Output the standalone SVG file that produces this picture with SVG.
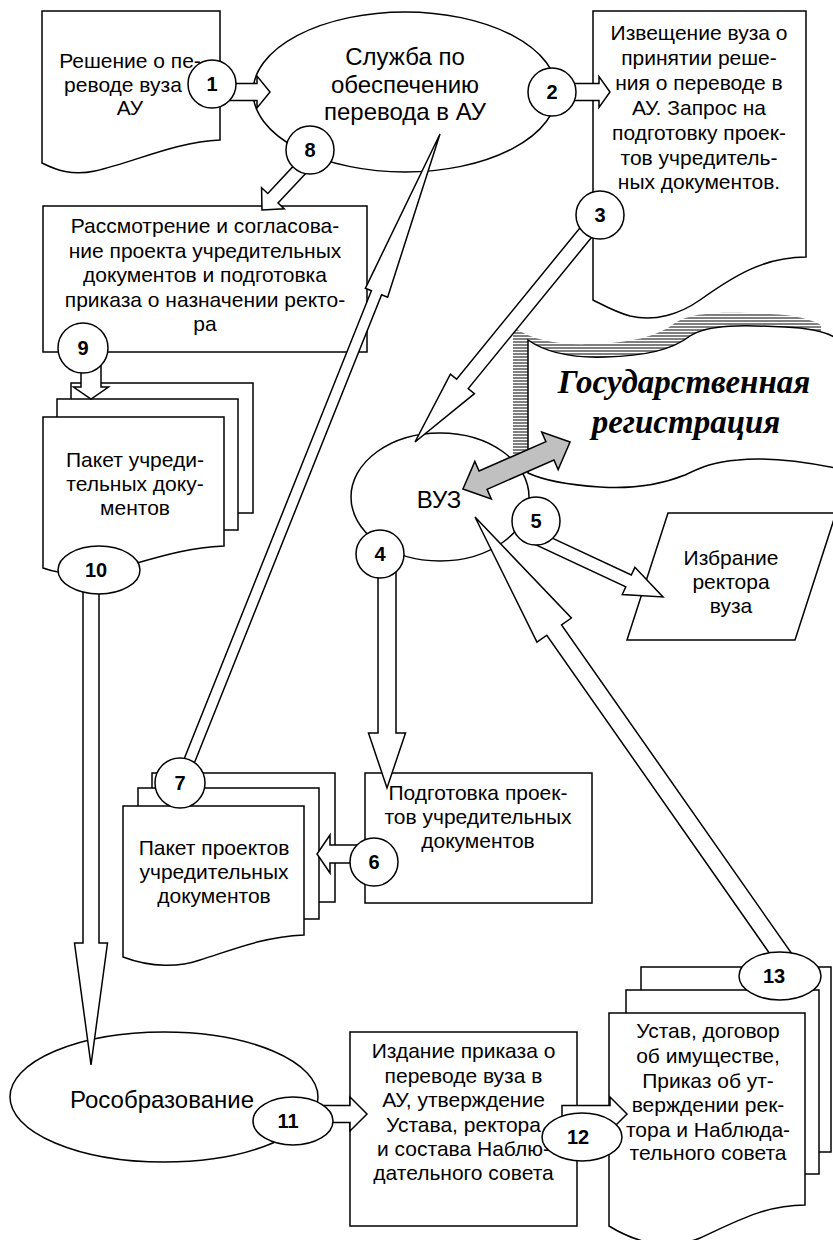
<svg xmlns="http://www.w3.org/2000/svg" width="833" height="1240" viewBox="0 0 833 1240">
<style>
.s{fill:#fff;stroke:#000;stroke-width:1.5}
.g{fill:#c0c0c0;stroke:#000;stroke-width:1.5}
.t{font-family:"Liberation Sans",Arial,sans-serif;font-size:21px;text-anchor:middle;fill:#000}
.b{font-size:24px}
.n{font-family:"Liberation Sans",Arial,sans-serif;font-size:20px;font-weight:bold;text-anchor:middle;fill:#000}
.reg{font-family:"Liberation Serif","Times New Roman",serif;font-style:italic;font-weight:bold;font-size:33px;text-anchor:middle;fill:#000}
</style>
<defs>
<pattern id="hatch" width="4" height="3" patternUnits="userSpaceOnUse">
<rect width="4" height="3" fill="#fff"/>
<rect width="4" height="2" fill="#808080"/>
</pattern>
</defs>
<rect width="833" height="1240" fill="#fff"/>

<g id="doc-decision">
<path class="s" d="M42,11 H220 V140 C175,142 135,162 95,171 C72,176 56,170 42,163 Z"/>
<text class="t" x="130" y="68">Решение о пе-</text>
<text class="t" x="123" y="92">реводе вуза</text>
<text class="t" x="130" y="115">АУ</text>
</g>

<g id="service">
<ellipse class="s" cx="405" cy="92" rx="152" ry="80"/>
<text class="t b" x="405" y="65">Служба по</text>
<text class="t b" x="405" y="93">обеспечению</text>
<text class="t b" x="405" y="120">перевода в АУ</text>
</g>

<g id="doc-notice">
<path class="s" d="M593,11 H806 V257 C765,257 735,275 700,300 C680,314 655,322 630,316 C615,312 603,305 593,300 Z"/>
<text class="t" x="699" y="40">Извещение вуза о</text>
<text class="t" x="699" y="65">принятии реше-</text>
<text class="t" x="699" y="90">ния о переводе в</text>
<text class="t" x="699" y="115">АУ. Запрос на</text>
<text class="t" x="699" y="140">подготовку проек-</text>
<text class="t" x="699" y="165">тов учредитель-</text>
<text class="t" x="699" y="189">ных документов.</text>
</g>

<g id="review">
<rect class="s" x="43" y="206" width="324" height="146"/>
<text class="t" x="205" y="233">Рассмотрение и согласова-</text>
<text class="t" x="205" y="258">ние проекта учредительных</text>
<text class="t" x="205" y="282">документов и подготовка</text>
<text class="t" x="205" y="307">приказа о назначении ректо-</text>
<text class="t" x="205" y="331">ра</text>
</g>

<g id="package-founding">
<rect class="s" x="71" y="383" width="182" height="130"/>
<rect class="s" x="57" y="399" width="181" height="131"/>
<path class="s" d="M43,417 H224 V546 C180,548 150,560 115,569 C85,576 62,575 43,568 Z"/>
<text class="t" x="135" y="467">Пакет учреди-</text>
<text class="t" x="135" y="491">тельных доку-</text>
<text class="t" x="135" y="515">ментов</text>
</g>

<g id="registration">
<path fill="url(#hatch)" transform="translate(-15,-13)" d="M528,340 C548,354 575,358 605,357 C645,356 672,350 690,336 C708,324 745,325 785,327 C810,328 826,332 836,338 L836,468 C805,462 765,457 738,460 C712,462 700,468 685,475 C660,485 630,489 600,487 C570,485 545,481 528,473 Z"/>
<path class="s" d="M528,340 C548,354 575,358 605,357 C645,356 672,350 690,336 C708,324 745,325 785,327 C810,328 826,332 836,338 L836,468 C805,462 765,457 738,460 C712,462 700,468 685,475 C660,485 630,489 600,487 C570,485 545,481 528,473 Z"/>
<text class="reg" x="684" y="393">Государственная</text>
<text class="reg" x="686" y="433">регистрация</text>
</g>

<g id="vuz">
<ellipse class="s" cx="440" cy="497" rx="89" ry="64"/>
<text class="t b" x="439" y="508">ВУЗ</text>
</g>

<g id="election">
<polygon class="s" points="668,513 836,513 795,640 627,640"/>
<text class="t" x="731" y="565">Избрание</text>
<text class="t" x="731" y="589">ректора</text>
<text class="t" x="731" y="613">вуза</text>
</g>

<g id="package-drafts">
<rect class="s" x="152" y="773" width="183" height="129"/>
<rect class="s" x="138" y="788" width="181" height="131"/>
<path class="s" d="M123,806 H304 V935 C262,937 232,950 200,960 C180,967 152,968 123,957 Z"/>
<text class="t" x="214" y="855">Пакет проектов</text>
<text class="t" x="214" y="879">учредительных</text>
<text class="t" x="214" y="903">документов</text>
</g>

<g id="preparation">
<rect class="s" x="365" y="773" width="227" height="130"/>
<text class="t" x="478" y="800">Подготовка проек-</text>
<text class="t" x="478" y="824">тов учредительных</text>
<text class="t" x="478" y="848">документов</text>
</g>

<g id="rosobrazovanie">
<ellipse class="s" cx="164" cy="1097" rx="154" ry="65"/>
<text class="t b" x="162" y="1108">Рособразование</text>
</g>

<g id="order">
<rect class="s" x="350" y="1032" width="227" height="194"/>
<text class="t" x="463.5" y="1058">Издание приказа о</text>
<text class="t" x="463.5" y="1083">переводе вуза в</text>
<text class="t" x="463.5" y="1107">АУ, утверждение</text>
<text class="t" x="463.5" y="1132">Устава, ректора</text>
<text class="t" x="463.5" y="1156">и состава Наблю-</text>
<text class="t" x="463.5" y="1180">дательного совета</text>
</g>

<g id="package-final">
<rect class="s" x="641" y="967" width="190" height="185"/>
<rect class="s" x="626" y="990" width="193" height="184"/>
<path class="s" d="M609,1013 H805 V1205 C765,1205 735,1222 700,1238 C670,1250 640,1245 609,1226 Z"/>
<text class="t" x="708" y="1038">Устав, договор</text>
<text class="t" x="708" y="1063">об имуществе,</text>
<text class="t" x="708" y="1088">Приказ об ут-</text>
<text class="t" x="708" y="1112">верждении рек-</text>
<text class="t" x="708" y="1137">тора и Наблюда-</text>
<text class="t" x="708" y="1160">тельного совета</text>
</g>

<g id="connectors">
<polygon class="s" transform="translate(270,92)" points="-45,-8.5 -13,-8.5 -13,-16 0,0 -13,16 -13,8.5 -45,8.5"/>
<polygon class="s" transform="translate(610,92)" points="-40,-8.5 -11,-8.5 -11,-15.5 0,0 -11,15.5 -11,8.5 -40,8.5"/>
<polygon class="s" transform="translate(415,442) rotate(129.2)" points="-293,-7.5 -75,-7.5 -75,-15.5 0,0 -75,15.5 -75,7.5 -293,7.5"/>
<polygon class="s" transform="translate(387,788) rotate(90)" points="-228,-9 -55,-9 -55,-18.5 0,0 -55,18.5 -55,9 -228,9"/>
<polygon class="s" transform="translate(663,597) rotate(25)" points="-140,-6.5 -38,-6.5 -38,-15 0,0 -38,15 -38,6.5 -140,6.5"/>
<polygon class="s" transform="translate(317,854) rotate(180)" points="-57,-9 -13,-9 -13,-19 0,0 -13,19 -13,9 -57,9"/>
<polygon class="s" transform="translate(440,134) rotate(-68.2)" points="-690,-5.5 -171,-5.5 -171,-12 0,0 -171,12 -171,5.5 -690,5.5"/>
<polygon class="s" transform="translate(262,210) rotate(133)" points="-75,-7 -16,-7 -16,-15.5 0,0 -16,15.5 -16,7 -75,7"/>
<polygon class="s" transform="translate(91,399) rotate(90)" points="-50,-10 -12,-10 -12,-17.5 0,0 -12,17.5 -12,10 -50,10"/>
<polygon class="s" transform="translate(91,1065) rotate(90)" points="-495,-8 -122,-8 -122,-16.5 0,0 -122,16.5 -122,8 -495,8"/>
<polygon class="s" transform="translate(367,1114)" points="-67,-8.5 -17,-8.5 -17,-17 0,0 -17,17 -17,8.5 -67,8.5"/>
<polygon class="s" transform="translate(627,1114)" points="-65,-8.5 -17,-8.5 -17,-17 0,0 -17,17 -17,8.5 -65,8.5"/>
<polygon class="s" transform="translate(475,517) rotate(-125)" points="-547,-9 -138,-9 -138,-21 0,0 -138,21 -138,9 -547,9"/>
<polygon class="g" transform="translate(516.5,465.5) rotate(-23.7)" points="-58.5,0 -36.5,-20.5 -36.5,-10 36.5,-10 36.5,-20.5 58.5,0 36.5,20.5 36.5,10 -36.5,10 -36.5,20.5"/>
</g>

<g id="labels">
<g id="label-1"><circle class="s" cx="212" cy="84" r="24"/><text class="n" x="212" y="91">1</text></g>
<g id="label-2"><circle class="s" cx="552" cy="92" r="24"/><text class="n" x="552" y="99">2</text></g>
<g id="label-3"><circle class="s" cx="600" cy="215" r="24"/><text class="n" x="600" y="222">3</text></g>
<g id="label-4"><circle class="s" cx="380" cy="554" r="24"/><text class="n" x="380" y="561">4</text></g>
<g id="label-5"><circle class="s" cx="536" cy="521" r="24"/><text class="n" x="536" y="528">5</text></g>
<g id="label-6"><circle class="s" cx="374" cy="862" r="24"/><text class="n" x="374" y="869">6</text></g>
<g id="label-7"><circle class="s" cx="180" cy="783" r="25"/><text class="n" x="180" y="790">7</text></g>
<g id="label-8"><circle class="s" cx="310" cy="150" r="24"/><text class="n" x="310" y="157">8</text></g>
<g id="label-9"><circle class="s" cx="83" cy="348" r="25"/><text class="n" x="83" y="355">9</text></g>
<g id="label-10"><ellipse class="s" cx="99" cy="570" rx="41" ry="24"/><text class="n" x="96" y="577">10</text></g>
<g id="label-11"><ellipse class="s" cx="293" cy="1121" rx="40" ry="24"/><text class="n" x="288" y="1128">11</text></g>
<g id="label-12"><ellipse class="s" cx="582" cy="1137" rx="40" ry="24"/><text class="n" x="578" y="1144">12</text></g>
<g id="label-13"><ellipse class="s" cx="780" cy="976" rx="41" ry="24"/><text class="n" x="774" y="983">13</text></g>
</g>
</svg>
